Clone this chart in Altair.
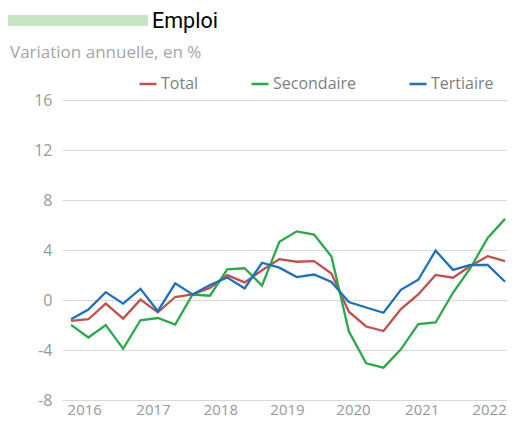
import altair as alt
import pandas as pd

quarters = [
    "2016-T1", "2016-T2", "2016-T3", "2016-T4",
    "2017-T1", "2017-T2", "2017-T3", "2017-T4",
    "2018-T1", "2018-T2", "2018-T3", "2018-T4",
    "2019-T1", "2019-T2", "2019-T3", "2019-T4",
    "2020-T1", "2020-T2", "2020-T3", "2020-T4",
    "2021-T1", "2021-T2", "2021-T3", "2021-T4",
    "2022-T1", "2022-T2",
]
total = [-1.67, -1.54, -0.29, -1.49, 0.03, -0.99, 0.24, 0.44, 0.97, 1.99, 1.41, 2.38,
         3.27, 3.06, 3.11, 2.12, -0.94, -2.12, -2.48, -0.73, 0.44, 2.01, 1.78, 2.72,
         3.50, 3.11]
secondaire = [-1.99, -3.00, -2.01, -3.90, -1.62, -1.44, -1.96, 0.44, 0.34, 2.46, 2.54, 1.15,
              4.65, 5.49, 5.23, 3.48, -2.51, -5.07, -5.41, -3.95, -1.93, -1.80, 0.58, 2.54,
              4.97, 6.49]
tertiaire = [-1.54, -0.76, 0.63, -0.29, 0.89, -0.89, 1.33, 0.44, 1.20, 1.80, 0.92, 2.98,
             2.59, 1.83, 2.04, 1.44, -0.16, -0.60, -1.02, 0.81, 1.62, 3.95, 2.41, 2.80,
             2.80, 1.46]
series_names = ["Total", "Secondaire", "Tertiaire"]
series_colors = ["#C0504D", "#2BA84A", "#1F6FBA"]
year_labels = ["2016", "2017", "2018", "2019", "2020", "2021", "2022"]
year_label_pos = [2016.19, 2017.18, 2018.15, 2019.11, 2020.06, 2021.05, 2022.02]
y_ticks = [-8, -4, 0, 4, 8, 12, 16]

def tpos(q):
    y, t = q.split("-T")
    return int(y) + (int(t) - 1) / 4

rows = []
for name, vals in zip(series_names, [total, secondaire, tertiaire]):
    for q, v in zip(quarters, vals):
        rows.append({"trimestre": q, "t": tpos(q), "serie": name, "valeur": v})
df = pd.DataFrame(rows)

color = alt.Color(
    "serie:N",
    scale=alt.Scale(domain=series_names, range=series_colors),
    legend=alt.Legend(
        title=None, orient="none", legendX=76, legendY=-26, direction="horizontal",
        symbolType="stroke", symbolSize=289, symbolStrokeWidth=2.5,
        labelFontSize=16, labelColor="#808080", labelFont="Open Sans",
        columnPadding=47, labelOffset=3,
    ),
)

x = alt.X(
    "t:Q",
    scale=alt.Scale(domain=[2015.870, 2022.278], nice=False, zero=False),
    axis=alt.Axis(
        title=None, values=year_label_pos, labelExpr="floor(datum.value)",
        grid=False, ticks=False, domain=False, labelFontSize=15, labelColor="#999999",
        labelFont="Open Sans", labelPadding=14, labelBaseline="alphabetic",
    ),
)
y = alt.Y(
    "valeur:Q",
    scale=alt.Scale(domain=[-8, 16], nice=False),
    axis=alt.Axis(
        title=None, values=y_ticks, grid=True, gridColor="#d9d9d9", gridWidth=1,
        ticks=False, domain=False, labelFontSize=16, labelColor="#999999",
        labelFont="Open Sans", labelPadding=10,
        labelExpr="datum.value < 0 ? '-' + abs(datum.value) : '' + datum.value",
    ),
)

base = alt.Chart(df)
lines = [
    base.transform_filter(alt.datum.serie == s)
    .mark_line(strokeWidth=2.3)
    .encode(x=x, y=y, color=color)
    for s in series_names
]

bar = alt.Chart(pd.DataFrame({"a": [0]})).mark_rect(color="#C6E6C6").encode(
    x=alt.value(-54), x2=alt.value(86), y=alt.value(-85), y2=alt.value(-74)
)
title = alt.Chart(pd.DataFrame({"txt": ["Emploi"]})).mark_text(
    align="left", baseline="alphabetic", fontSize=21.5, font="Roboto",
    fontWeight="normal", color="#000000"
).encode(text="txt:N", x=alt.value(90), y=alt.value(-72))
subtitle = alt.Chart(pd.DataFrame({"txt": ["Variation annuelle, en %"]})).mark_text(
    align="left", baseline="alphabetic", fontSize=17, font="Open Sans",
    color="#A6A6A6"
).encode(text="txt:N", x=alt.value(-52), y=alt.value(-42))

chart = alt.layer(*lines, bar, title, subtitle).properties(
    width=445, height=300,
    autosize=alt.AutoSizeParams(type="none"),
    padding={"left": 54, "top": 92, "right": 0, "bottom": 19},
).configure_view(stroke=None)

chart.save("out.html", embed_options={"renderer": "svg", "actions": False})
